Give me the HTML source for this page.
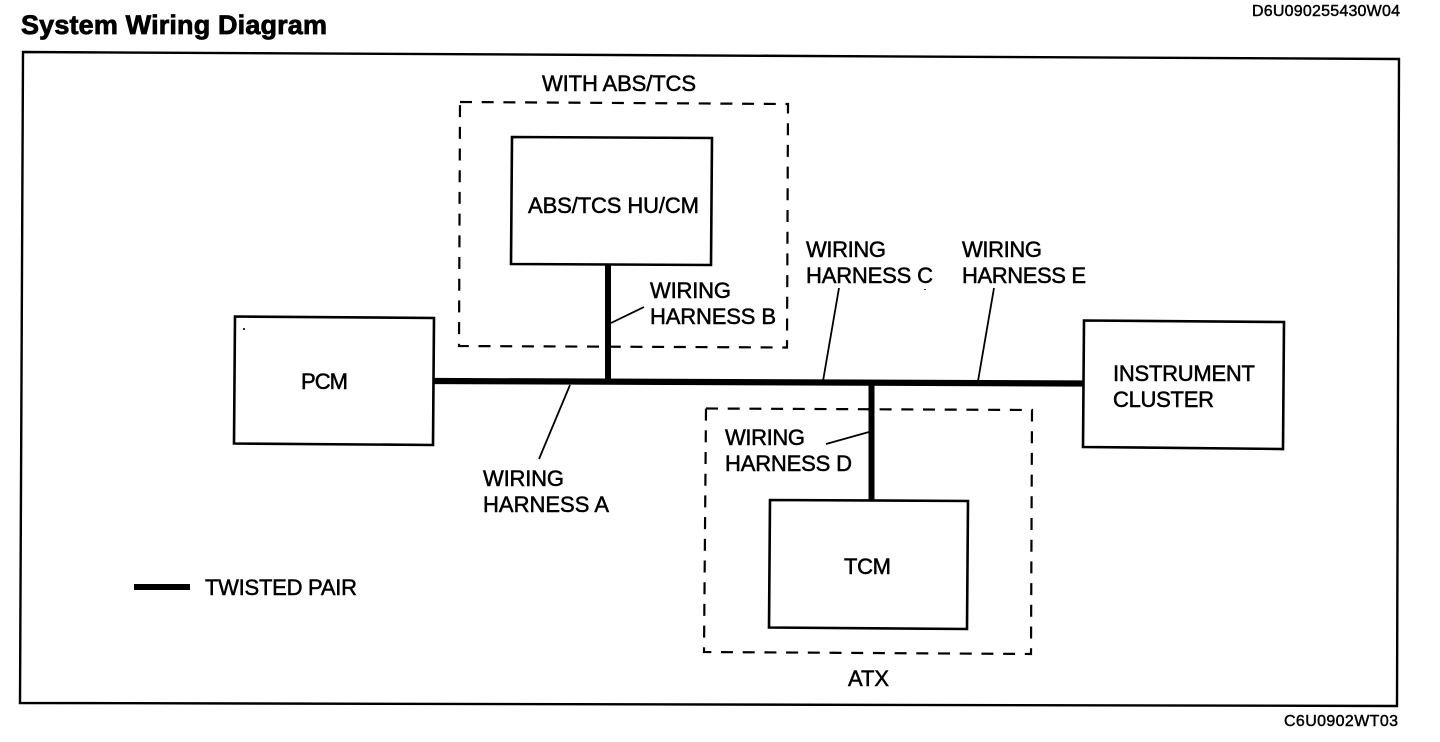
<!DOCTYPE html>
<html>
<head>
<meta charset="utf-8">
<style>
html,body{margin:0;padding:0;background:#fff;width:1440px;height:742px;overflow:hidden}
svg{display:block}
text{font-family:"Liberation Sans",Arial,sans-serif;fill:#000;stroke:#000;stroke-width:.5px;font-size:22px}
</style>
</head>
<body>
<svg width="1440" height="742" viewBox="0 0 1440 742" xmlns="http://www.w3.org/2000/svg">
<rect width="1440" height="742" fill="#fff"/>
<text x="21" y="34" textLength="306" style="font-size:27px;font-weight:bold;stroke-width:.8px">System Wiring Diagram</text>
<text x="1252" y="16" textLength="148" style="font-size:16px;stroke-width:.45px">D6U090255430W04</text>
<text x="1284" y="726" textLength="114" style="font-size:16px;stroke-width:.45px">C6U0902WT03</text>

<path d="M23 52 L1399 59 L1397 706 L20 703 Z" fill="none" stroke="#000" stroke-width="2.4"/>

<path d="M460 102 L788 104 L787 347.5 L459 346 Z" fill="none" stroke="#000" stroke-width="2.2" stroke-dasharray="12 9.7"/>
<path d="M706 408.5 L1032 410 L1031 654 L704 652 Z" fill="none" stroke="#000" stroke-width="2.2" stroke-dasharray="12 9.7"/>

<path d="M512 137 L712 138 L711 265 L511 264 Z" fill="none" stroke="#000" stroke-width="2.6"/>
<path d="M235 316.5 L434 318 L433 445 L234 443.5 Z" fill="none" stroke="#000" stroke-width="2.6"/>
<path d="M1084 320.5 L1284 322 L1283 449 L1083 447 Z" fill="none" stroke="#000" stroke-width="2.6"/>
<path d="M770 500 L968 501 L967 629 L769 627.5 Z" fill="none" stroke="#000" stroke-width="2.6"/>

<path d="M434 381 L1084 383.5" stroke="#000" stroke-width="6.2" fill="none"/>
<path d="M608 265 L608 382" stroke="#000" stroke-width="6" fill="none"/>
<path d="M871.5 384 L871.5 500" stroke="#000" stroke-width="6" fill="none"/>
<path d="M134 587 L190 587" stroke="#000" stroke-width="6" fill="none"/>

<path d="M611 323 L644 307" stroke="#000" stroke-width="1.8" fill="none"/>
<path d="M570 385 L539 459" stroke="#000" stroke-width="1.8" fill="none"/>
<path d="M823 381 L839 288" stroke="#000" stroke-width="1.8" fill="none"/>
<path d="M978 381 L994 288" stroke="#000" stroke-width="1.8" fill="none"/>
<path d="M826 444 L869 432" stroke="#000" stroke-width="1.8" fill="none"/>

<text x="542" y="91" textLength="154">WITH ABS/TCS</text>
<text x="528" y="213" textLength="171">ABS/TCS HU/CM</text>
<text x="650" y="298" textLength="81">WIRING</text>
<text x="650" y="324" textLength="126">HARNESS B</text>
<text x="806" y="257" textLength="80">WIRING</text>
<text x="806" y="283" textLength="127">HARNESS C</text>
<text x="962" y="257" textLength="80">WIRING</text>
<text x="962" y="283" textLength="124">HARNESS E</text>
<text x="301" y="389" textLength="47">PCM</text>
<text x="1113" y="381" textLength="142">INSTRUMENT</text>
<text x="1113" y="407" textLength="101">CLUSTER</text>
<text x="725" y="445" textLength="80">WIRING</text>
<text x="725" y="471" textLength="127">HARNESS D</text>
<text x="483" y="486" textLength="81">WIRING</text>
<text x="483" y="512" textLength="126">HARNESS A</text>
<text x="844" y="574" textLength="47">TCM</text>
<text x="205" y="595" textLength="152">TWISTED PAIR</text>
<text x="848" y="686" textLength="41">ATX</text>

<rect x="243" y="328" width="2" height="2" fill="#333"/>
<rect x="924" y="289" width="2" height="1" fill="#333"/>
</svg>
</body>
</html>
